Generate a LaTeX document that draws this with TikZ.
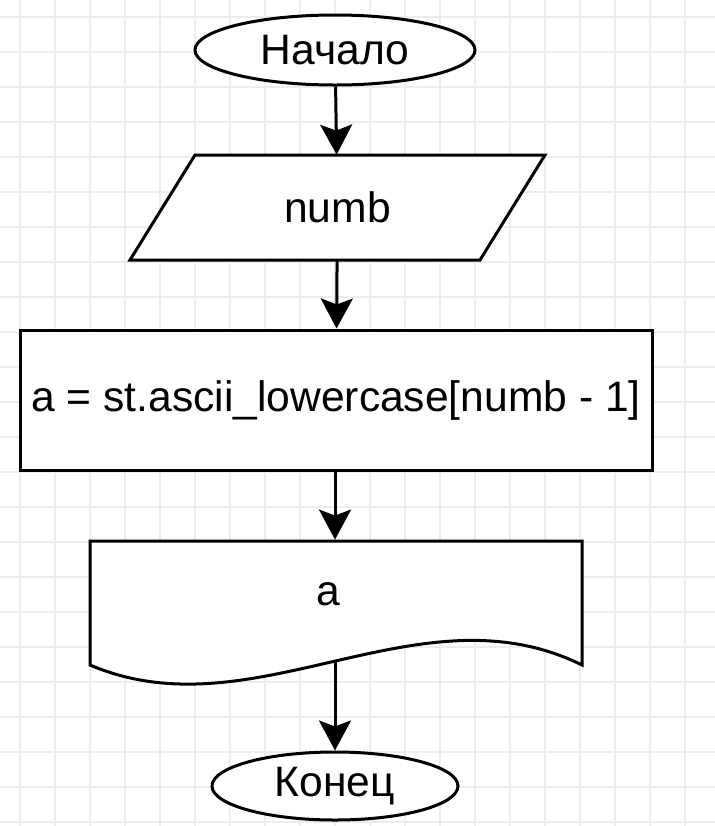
\documentclass[tikz,border=0pt]{standalone}
\usepackage{fontspec}
\setmainfont{Liberation Sans}
\usetikzlibrary{shapes.geometric,arrows.meta}
\tikzset{
  gridline/.style={draw=black!7, line width=0.6pt},
  flowline/.style={line width=1.5pt, -{Stealth[length=15pt, width=16pt, inset=3pt]}},
  shapetext/.style={inner sep=0pt, font=\fontsize{21.3}{25}\selectfont},
  shapebox/.style={shapetext, draw, line width=1.5pt, fill=white},
}
\begin{document}
\begin{tikzpicture}[x=0.5pt, y=-0.5pt]
    \useasboundingbox (0,0) rectangle (715,826);
    \fill[white] (0,0) rectangle (715,826);
    % Grid
    \foreach \gx in {20,55,...,705} \draw[gridline] (\gx,0) -- (\gx,826);
    \foreach \gy in {17,52,...,822} \draw[gridline] (0,\gy) -- (715,\gy);
    % Start terminal
    \node[shapebox, ellipse, minimum width=140pt, minimum height=35pt] (start) at (335,50) {Начало};
    % Input
    \draw[line width=1.5pt, fill=white] (195,155) -- (545,155) -- (480,260) -- (130,260) -- cycle;
    \node[shapetext, minimum width=175pt, minimum height=52.5pt] (inp) at (337.5,207.5) {numb};
    % Process box
    \node[shapebox, rectangle, minimum width=316pt, minimum height=70pt] (proc) at (336,400) {a = st.ascii\_lowercase[numb - 1]};
    % Output document
    \draw[line width=1.5pt, fill=white] (90,665) -- (90,541) -- (582,541) -- (582,665)
        .. controls (418,584) and (254,735) .. (90,665) -- cycle;
    \node[shapetext, minimum width=246pt, minimum height=60pt] (outp) at (336,600) {};
    \node[shapetext] (outtxt) at (328,594) {a};
    \coordinate (outb) at (335,661);
    % End terminal
    \node[shapebox, ellipse, minimum width=123pt, minimum height=34pt] (stop) at (335,786) {Конец};
    % Connectors
    \draw[flowline] (start) -- (inp);
    \draw[flowline] (inp) -- (proc);
    \draw[flowline] (proc.south -| outb) -- (outp.north -| outb);
    \draw[flowline] (outb) -- (stop);
\end{tikzpicture}
\end{document}
